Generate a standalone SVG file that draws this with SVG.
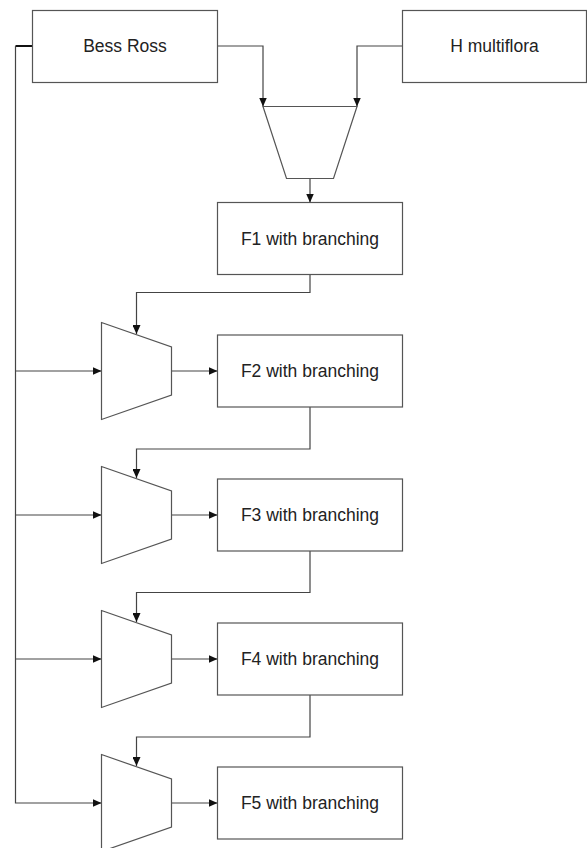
<svg xmlns="http://www.w3.org/2000/svg" width="587" height="848" viewBox="0 0 587 848">
<style>
.box{fill:#fff;stroke:#555;stroke-width:1.2}
.trap{fill:#fff;stroke:#555;stroke-width:1.2}
.lbl{font-family:"Liberation Sans",Arial,sans-serif;font-size:17.5px;fill:#222;text-anchor:middle}
.c{fill:none;stroke:#444;stroke-width:1.2}
</style>
<defs>
<marker id="ah" markerWidth="10" markerHeight="8" refX="9" refY="4" orient="auto" markerUnits="userSpaceOnUse">
<path d="M0,0 L9,4 L0,8 Z" fill="#111"/>
</marker>
</defs>
<rect width="587" height="848" fill="#fff"/>
<g id="connectors">
<path class="c" d="M32.5,46 H15.5" style="stroke:#111;stroke-width:2"/>
<path class="c" d="M15.5,46 V803 H101.5" marker-end="url(#ah)"/>
<path class="c" d="M15.5,371 H101.5" marker-end="url(#ah)"/>
<path class="c" d="M15.5,515 H101.5" marker-end="url(#ah)"/>
<path class="c" d="M15.5,659 H101.5" marker-end="url(#ah)"/>
<path class="c" d="M217.5,46 H263 V106.5" marker-end="url(#ah)"/>
<path class="c" d="M402.5,46 H357 V106.5" marker-end="url(#ah)"/>
<path class="c" d="M310,178.5 V202.5" marker-end="url(#ah)"/>
<path class="c" d="M310,274.5 V292.5 H136.5 V334" marker-end="url(#ah)"/>
<path class="c" d="M310,407 V449 H136.5 V478" marker-end="url(#ah)"/>
<path class="c" d="M310,551 V592.5 H136.5 V622" marker-end="url(#ah)"/>
<path class="c" d="M310,695 V737 H136.5 V766" marker-end="url(#ah)"/>
<path class="c" d="M171.5,371 H217.5" marker-end="url(#ah)"/>
<path class="c" d="M171.5,515 H217.5" marker-end="url(#ah)"/>
<path class="c" d="M171.5,659 H217.5" marker-end="url(#ah)"/>
<path class="c" d="M171.5,803 H217.5" marker-end="url(#ah)"/>
</g>
<g id="bess-ross">
<rect class="box" x="32.5" y="10.5" width="185" height="72"/>
<text class="lbl" x="125" y="52">Bess Ross</text>
</g>
<g id="h-multiflora">
<rect class="box" x="402.5" y="10.5" width="184" height="72"/>
<text class="lbl" x="494.5" y="52">H multiflora</text>
</g>
<g id="cross-top">
<polygon class="trap" points="263,106.5 357,106.5 333.5,178.5 286.5,178.5"/>
</g>
<g id="f1">
<rect class="box" x="217.5" y="202.5" width="185" height="72"/>
<text class="lbl" x="310" y="244.5">F1 with branching</text>
</g>
<g id="cross-2">
<polygon class="trap" points="101.5,322.5 171.5,347 171.5,395 101.5,419.5"/>
</g>
<g id="f2">
<rect class="box" x="217.5" y="335" width="185" height="72"/>
<text class="lbl" x="310" y="377">F2 with branching</text>
</g>
<g id="cross-3">
<polygon class="trap" points="101.5,466.5 171.5,491 171.5,539 101.5,563.5"/>
</g>
<g id="f3">
<rect class="box" x="217.5" y="479" width="185" height="72"/>
<text class="lbl" x="310" y="521">F3 with branching</text>
</g>
<g id="cross-4">
<polygon class="trap" points="101.5,610.5 171.5,635 171.5,683 101.5,707.5"/>
</g>
<g id="f4">
<rect class="box" x="217.5" y="623" width="185" height="72"/>
<text class="lbl" x="310" y="665">F4 with branching</text>
</g>
<g id="cross-5">
<polygon class="trap" points="101.5,754.5 171.5,779 171.5,827 101.5,851.5"/>
</g>
<g id="f5">
<rect class="box" x="217.5" y="767" width="185" height="72"/>
<text class="lbl" x="310" y="809">F5 with branching</text>
</g>
</svg>
